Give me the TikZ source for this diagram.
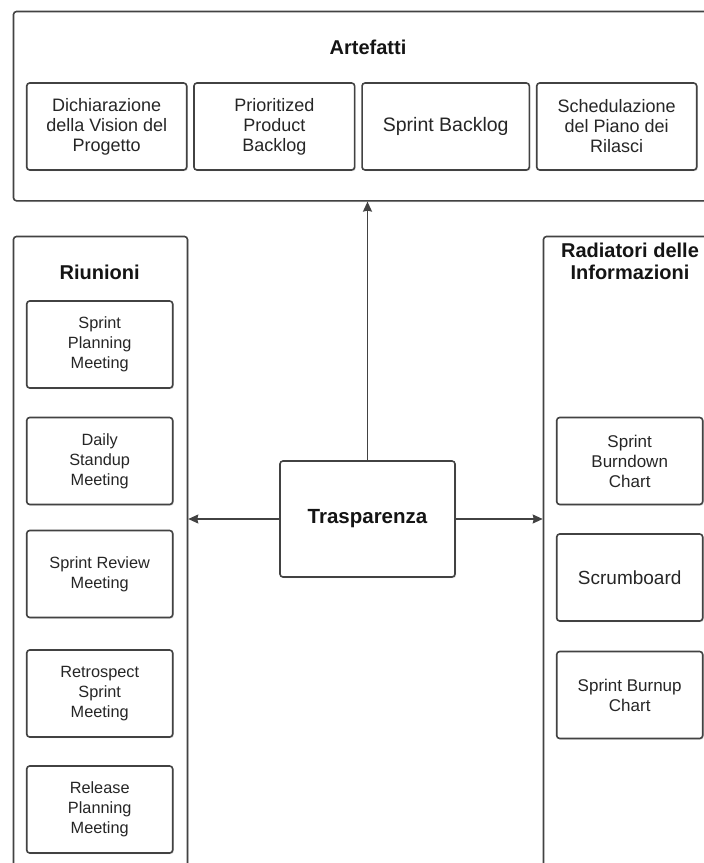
\documentclass[tikz,border=0pt]{standalone}
\usepackage{fontspec}
\setmainfont{Liberation Sans}
\usetikzlibrary{arrows.meta,shadows}
\definecolor{edgegray}{HTML}{424242}
\definecolor{txtgray}{HTML}{262626}
\begin{document}
\begin{tikzpicture}[x=1pt,y=-1pt,
  box/.style={draw=edgegray, line width=1.6pt, rounded corners=3pt, fill=white,
    drop shadow={opacity=0.22, shadow xshift=1.2pt, shadow yshift=-1.2pt},
    inner sep=0pt, align=center, text=txtgray},
  group/.style={box, anchor=north west},
  title/.style={font=\bfseries\fontsize{20}{22}\selectfont, text=black!92, align=center, inner sep=0pt},
  topitem/.style={box, minimum height=87pt, font=\fontsize{18}{20}\selectfont},
  leftitem/.style={box, minimum width=146pt, minimum height=87pt, font=\fontsize{16.3}{20}\selectfont},
  rightitem/.style={box, minimum width=146pt, minimum height=87pt, font=\fontsize{17}{20}\selectfont},
  link/.style={draw=edgegray, line width=1.5pt, -{Stealth[length=10pt,width=9pt,inset=1pt]}}]
\useasboundingbox (0,0) rectangle (704,863);
\fill[white] (0,0) rectangle (704,863);
\begin{scope}
\clip (0,0) rectangle (704,863);
% outer groups (they run past the right and bottom edges)
\node[group, minimum width=707pt, minimum height=189.3pt] (art) at (12.7,10.7) {};
\node[group, minimum width=174pt, minimum height=660pt] (riu) at (12.7,235.7) {};
\node[group, minimum width=180pt, minimum height=660pt] (rad) at (542.7,235.7) {};

% Artefatti
\node[title] (artT) at (368,47) {Artefatti};
\node[topitem, minimum width=160pt] (a1) at (106.7,126.5) {Dichiarazione\\della Vision del\\Progetto};
\node[topitem, minimum width=160.7pt] (a2) at (274.3,126.5) {Prioritized\\Product\\Backlog};
\node[topitem, minimum width=167.3pt, font=\fontsize{19.5}{22}\selectfont] (a3) at (445.7,126.5) {Sprint Backlog};
\node[topitem, minimum width=160pt] (a4) at (616.7,126.5) {Schedulazione\\del Piano dei\\Rilasci};

% Riunioni
\node[title] (riuT) at (99.7,272) {Riunioni};
\node[leftitem] (r1) at (99.7,344.5) {Sprint\\Planning\\Meeting};
\node[leftitem] (r2) at (99.7,461) {Daily\\Standup\\Meeting};
\node[leftitem] (r3) at (99.7,574) {Sprint Review\\Meeting\vphantom{g}};
\node[leftitem] (r4) at (99.7,693.5) {Retrospect\\Sprint\\Meeting};
\node[leftitem] (r5) at (99.7,809.5) {Release\\Planning\\Meeting};

% Radiatori delle Informazioni
\node[title] (radT) at (630,261) {Radiatori delle\\Informazioni};
\node[rightitem] (i1) at (629.7,461) {Sprint\\Burndown\\Chart};
\node[rightitem, font=\fontsize{19}{22}\selectfont] (i2) at (629.7,577.5) {Scrumboard};
\node[rightitem] (i3) at (629.7,695) {Sprint Burnup\\Chart};

% Trasparenza
\node[box, minimum width=175pt, minimum height=116pt, font=\bfseries\fontsize{20.5}{24}\selectfont, text=black!92] (tr) at (367.5,519) {Trasparenza};

\draw[link] (tr.north) -- (tr.north |- art.south);
\draw[link] (tr.west) -- (tr.west -| riu.east);
\draw[link] (tr.east) -- (tr.east -| rad.west);
\end{scope}
\end{tikzpicture}
\end{document}
